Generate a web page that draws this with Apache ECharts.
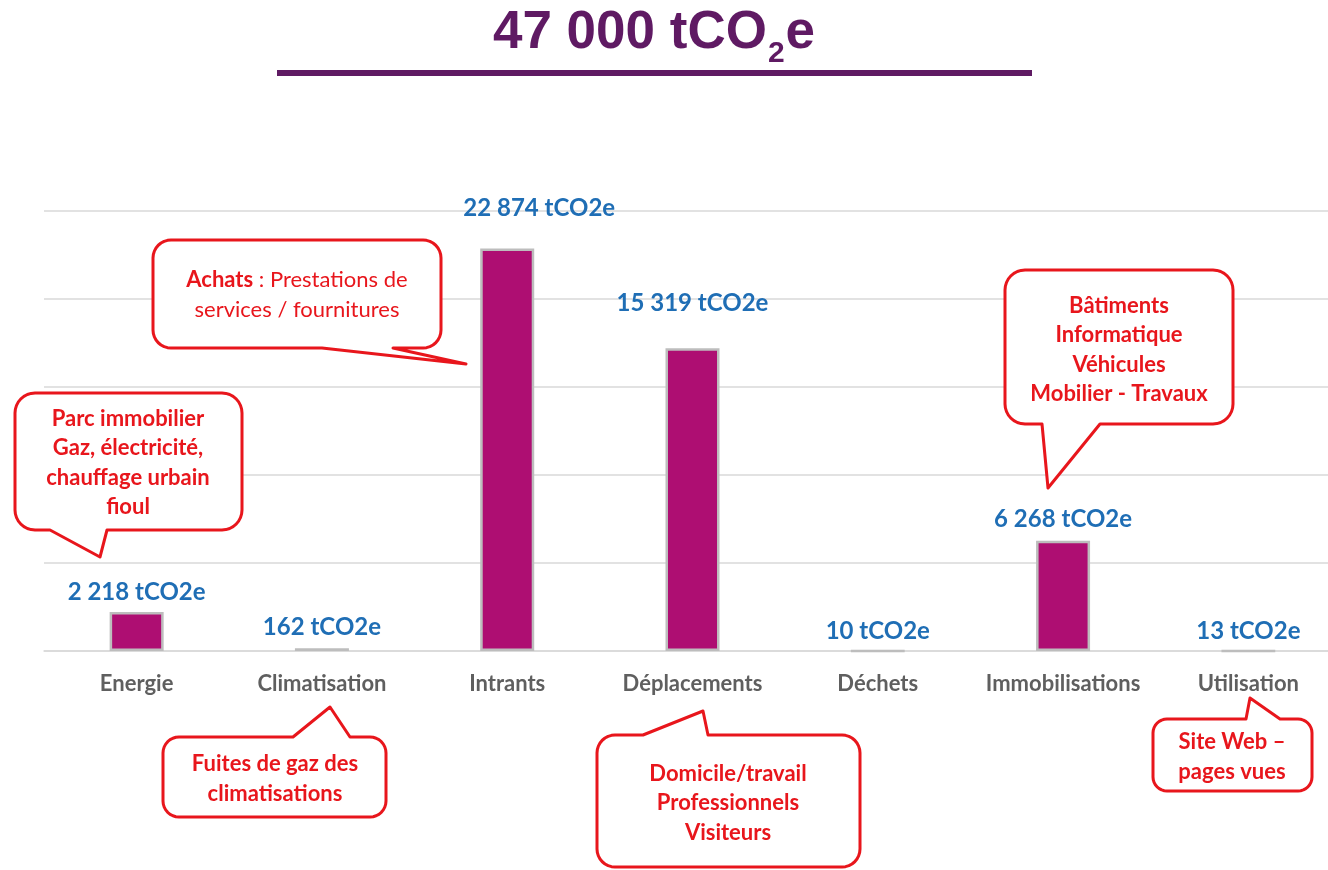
<!DOCTYPE html>
<html>
<head>
<meta charset="utf-8">
<script src="https://cdn.jsdelivr.net/npm/echarts@6/dist/echarts.min.js"></script>
<style>
html,body{margin:0;padding:0;background:#fff;}
#chart{width:1328px;height:870px;}
</style>
</head>
<body>
<div id="chart"></div>
<script>
// ---- data ----
const categories = ['Energie', 'Climatisation', 'Intrants', 'Déplacements', 'Déchets', 'Immobilisations', 'Utilisation'];
const barValues = [2218, 162, 22874, 17200, 10, 6268, 13];
const valueLabels = ['2 218 tCO2e', '162 tCO2e', '22 874 tCO2e', '15 319 tCO2e', '10 tCO2e', '6 268 tCO2e', '13 tCO2e'];
const yMax = 25000;
const yInterval = 5000;
const titleMain = '47 000 tCO';
const titleSub = '2';
const titleEnd = 'e';
const calloutTexts = [
  ['Parc immobilier', 'Gaz, électricité,', 'chauffage urbain', 'fioul'],
  ['{b|Achats} : Prestations de', 'services / fournitures'],
  ['Bâtiments', 'Informatique', 'Véhicules', 'Mobilier - Travaux'],
  ['Fuites de gaz des', 'climatisations'],
  ['Domicile/travail', 'Professionnels', 'Visiteurs'],
  ['Site Web –', 'pages vues']
];

// ---- styling / layout ----
const FONT = 'Lato, "Open Sans", sans-serif';
const RED = '#E8161C';
const PURPLE = '#5F1A63';
const labelOffsets = [[0, -3], [0, -4], [32, -23], [0, -28], [0, -1], [0, -4], [0, -1]];

const callouts = [
  { box: [15, 393, 227, 137], r: 20, tail: { side: 'bottom', a: 50, b: 107, tip: [100, 557] }, c: [128, 463], bold: true },
  { box: [153, 240, 288, 108], r: 18, tail: { side: 'bottom', a: 322, b: 393, tip: [466, 364] }, c: [297, 295], bold: false },
  { box: [1005, 270, 228, 154], r: 20, tail: { side: 'bottom', a: 1042, b: 1100, tip: [1048, 488] }, c: [1119, 350], bold: true },
  { box: [163, 737, 223, 80], r: 16, tail: { side: 'top', a: 293, b: 350, tip: [330, 707] }, c: [275, 779], bold: true },
  { box: [597, 735, 263, 132], r: 18, tail: { side: 'top', a: 643, b: 708, tip: [703, 711] }, c: [728, 803], bold: true },
  { box: [1153, 719, 159, 72], r: 14, tail: { side: 'top', a: 1246, b: 1280, tip: [1250, 698] }, c: [1232, 757], bold: true }
];

function arcPts(cx, cy, r, a0, a1, n) {
  const pts = [];
  for (let i = 0; i <= n; i++) {
    const a = (a0 + (a1 - a0) * i / n) * Math.PI / 180;
    pts.push([cx + r * Math.cos(a), cy + r * Math.sin(a)]);
  }
  return pts;
}
function calloutPoints(c) {
  const [x, y, w, h] = c.box, r = c.r, t = c.tail;
  let p = [];
  p = p.concat(arcPts(x + r, y + r, r, 180, 270, 8));
  if (t.side === 'top') p.push([t.a, y], t.tip, [t.b, y]);
  p = p.concat(arcPts(x + w - r, y + r, r, 270, 360, 8));
  p = p.concat(arcPts(x + w - r, y + h - r, r, 0, 90, 8));
  if (t.side === 'bottom') p.push([t.b, y + h], t.tip, [t.a, y + h]);
  p = p.concat(arcPts(x + r, y + h - r, r, 90, 180, 8));
  return p;
}

const graphics = [];
callouts.forEach((c, i) => {
  graphics.push({
    type: 'polygon', z: 100,
    shape: { points: calloutPoints(c) },
    style: { fill: '#ffffff', stroke: RED, lineWidth: 3, lineJoin: 'round' }
  });
  graphics.push({
    type: 'text', z: 101, x: c.c[0], y: c.c[1],
    style: {
      text: calloutTexts[i].join('\n'),
      fill: RED,
      fontFamily: FONT,
      fontSize: 22,
      fontWeight: c.bold ? 'bold' : 'normal',
      lineHeight: 29.5,
      textAlign: 'center', align: 'center',
      textVerticalAlign: 'middle', verticalAlign: 'middle',
      rich: { b: { fontWeight: 'bold', fontSize: 22, fontFamily: FONT, fill: RED, lineHeight: 29.5 } }
    }
  });
});

// title pieces measured for placement
const mctx = document.createElement('canvas').getContext('2d');
const titleFont = 'bold 53px "Liberation Sans", Arial, sans-serif';
const subFont = 'bold 30px "Liberation Sans", Arial, sans-serif';
mctx.font = titleFont;
const wMain = mctx.measureText(titleMain).width;
const wEnd = mctx.measureText(titleEnd).width;
mctx.font = subFont;
const wSub = mctx.measureText(titleSub).width;
const titleLeft = 653 - (wMain + wSub + wEnd) / 2;
graphics.push(
  { type: 'text', z: 100, x: titleLeft, y: 60, style: { text: titleMain, font: titleFont, fill: PURPLE, textAlign: 'left', align: 'left', textVerticalAlign: 'bottom', verticalAlign: 'bottom' } },
  { type: 'text', z: 100, x: titleLeft + wMain + 1, y: 69, style: { text: titleSub, font: subFont, fill: PURPLE, textAlign: 'left', align: 'left', textVerticalAlign: 'bottom', verticalAlign: 'bottom' } },
  { type: 'text', z: 100, x: titleLeft + wMain + wSub + 2, y: 60, style: { text: titleEnd, font: titleFont, fill: PURPLE, textAlign: 'left', align: 'left', textVerticalAlign: 'bottom', verticalAlign: 'bottom' } },
  { type: 'rect', z: 100, shape: { x: 277, y: 70, width: 755, height: 6 }, style: { fill: PURPLE } }
);

const chart = echarts.init(document.getElementById('chart'), null, { renderer: 'canvas' });
chart.setOption({
  animation: false,
  backgroundColor: '#ffffff',
  grid: { left: 44, top: 211, width: 1297, height: 440, containLabel: false, outerBoundsMode: 'none' },
  xAxis: {
    type: 'category',
    data: categories,
    boundaryGap: true,
    axisLine: { show: true, lineStyle: { color: '#D9D9D9', width: 1.5 } },
    axisTick: { show: false },
    axisLabel: { color: '#5f5f5f', fontFamily: FONT, fontSize: 22, fontWeight: 'bold', margin: 22, interval: 0 }
  },
  yAxis: {
    type: 'value', min: 0, max: yMax, interval: yInterval,
    axisLine: { show: false }, axisTick: { show: false }, axisLabel: { show: false },
    splitLine: { lineStyle: { color: '#D9D9D9', width: 1.5 } }
  },
  series: [{
    type: 'bar',
    barWidth: 54,
    data: barValues.map((v, i) => ({
      value: v,
      label: { offset: labelOffsets[i] }
    })),
    itemStyle: { color: '#AE0E72', borderColor: '#BDBDBD', borderWidth: 2.5 },
    label: {
      show: true, position: 'top', distance: 5,
      formatter: p => valueLabels[p.dataIndex],
      color: '#1F6EB5', fontFamily: FONT, fontSize: 24, fontWeight: 'bold'
    }
  }],
  graphic: graphics
});
</script>
</body>
</html>
